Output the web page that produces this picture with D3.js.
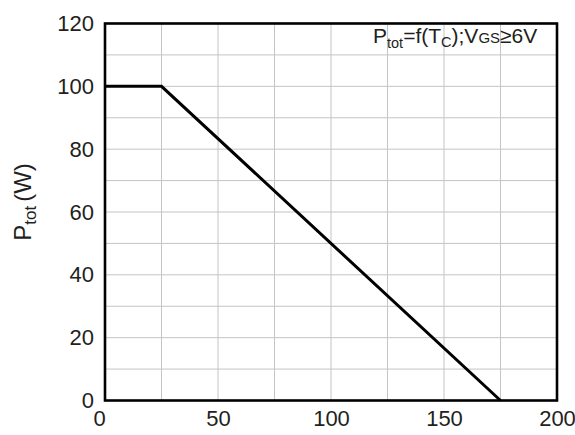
<!DOCTYPE html>
<html>
<head>
<meta charset="utf-8">
<script src="https://cdn.jsdelivr.net/npm/d3@7"></script>
<style>
  html, body { margin: 0; padding: 0; background: #fff; }
  svg { display: block; font-family: "Liberation Sans", Arial, sans-serif; }
</style>
</head>
<body>
<svg id="chart" width="575" height="435"></svg>
<script>
// Power dissipation derating: Ptot vs case temperature
const tempC = [0, 25, 175];
const powerW = [100, 100, 0];

const xTicks = [0, 50, 100, 150, 200];
const yTicks = [0, 20, 40, 60, 80, 100, 120];
const xGrid = [25, 50, 75, 100, 125, 150, 175];
const yGrid = [10, 20, 30, 40, 50, 60, 70, 80, 90, 100, 110];

const margin = { left: 105, top: 23.5, right: 18, bottom: 34.5 };
const width = 575, height = 435;

const svg = d3.select("#chart");

const x = d3.scaleLinear().domain([0, 200]).range([margin.left, width - margin.right]);
const y = d3.scaleLinear().domain([0, 120]).range([height - margin.bottom, margin.top]);

// grid
const grid = svg.append("g").attr("stroke", "#c4c4c4").attr("stroke-width", 1);
grid.selectAll("line.v").data(xGrid).join("line")
  .attr("x1", d => x(d)).attr("x2", d => x(d))
  .attr("y1", y(0)).attr("y2", y(120));
grid.selectAll("line.h").data(yGrid).join("line")
  .attr("y1", d => y(d)).attr("y2", d => y(d))
  .attr("x1", x(0)).attr("x2", x(200));

// x axis labels
const xAxis = svg.append("g")
  .attr("transform", `translate(0,${y(0)})`)
  .call(d3.axisBottom(x).tickValues(xTicks).tickSize(0).tickPadding(10).tickFormat(d3.format("d")));
xAxis.select(".domain").remove();
xAxis.selectAll("text")
  .attr("fill", "#231f20")
  .attr("font-size", 22)
  .attr("font-family", "Liberation Sans, Arial, sans-serif")
  .attr("dx", d => d === 0 ? -6 : 0);

// y axis labels
const yAxis = svg.append("g")
  .attr("transform", `translate(${x(0)},0)`)
  .call(d3.axisLeft(y).tickValues(yTicks).tickSize(0).tickPadding(11).tickFormat(d3.format("d")));
yAxis.select(".domain").remove();
yAxis.selectAll("text")
  .attr("fill", "#231f20")
  .attr("font-size", 22)
  .attr("font-family", "Liberation Sans, Arial, sans-serif");

// frame
svg.append("rect")
  .attr("x", x(0)).attr("y", y(120))
  .attr("width", x(200) - x(0)).attr("height", y(0) - y(120))
  .attr("fill", "none").attr("stroke", "#000").attr("stroke-width", 2.6);

// derating curve
const line = d3.line().x((d, i) => x(tempC[i])).y(d => y(d));
svg.append("path")
  .datum(powerW)
  .attr("d", line)
  .attr("fill", "none")
  .attr("stroke", "#000")
  .attr("stroke-width", 3)
  .attr("stroke-linejoin", "miter");

// y axis title
const yTitle = svg.append("text")
  .attr("transform", `translate(31,202) rotate(-90)`)
  .attr("text-anchor", "middle")
  .attr("fill", "#231f20")
  .attr("font-size", 24);
yTitle.append("tspan").text("P");
yTitle.append("tspan").attr("font-size", 17).attr("dy", 5).text("tot");
yTitle.append("tspan").attr("dy", -5).attr("dx", 4).text("(W)");

// condition note
const note = svg.append("text")
  .attr("x", 373)
  .attr("y", 43)
  .attr("text-anchor", "start")
  .attr("fill", "#231f20")
  .attr("font-size", 21);
note.append("tspan").text("P");
note.append("tspan").attr("font-size", 14.5).attr("dy", 5).text("tot");
note.append("tspan").attr("dy", -5).text("=f(T");
note.append("tspan").attr("font-size", 14.5).attr("dy", 4).text("C");
note.append("tspan").attr("dy", -4).text(");V");
note.append("tspan").attr("font-size", 15).text("GS");
note.append("tspan").text("≥6V");
</script>
</body>
</html>
